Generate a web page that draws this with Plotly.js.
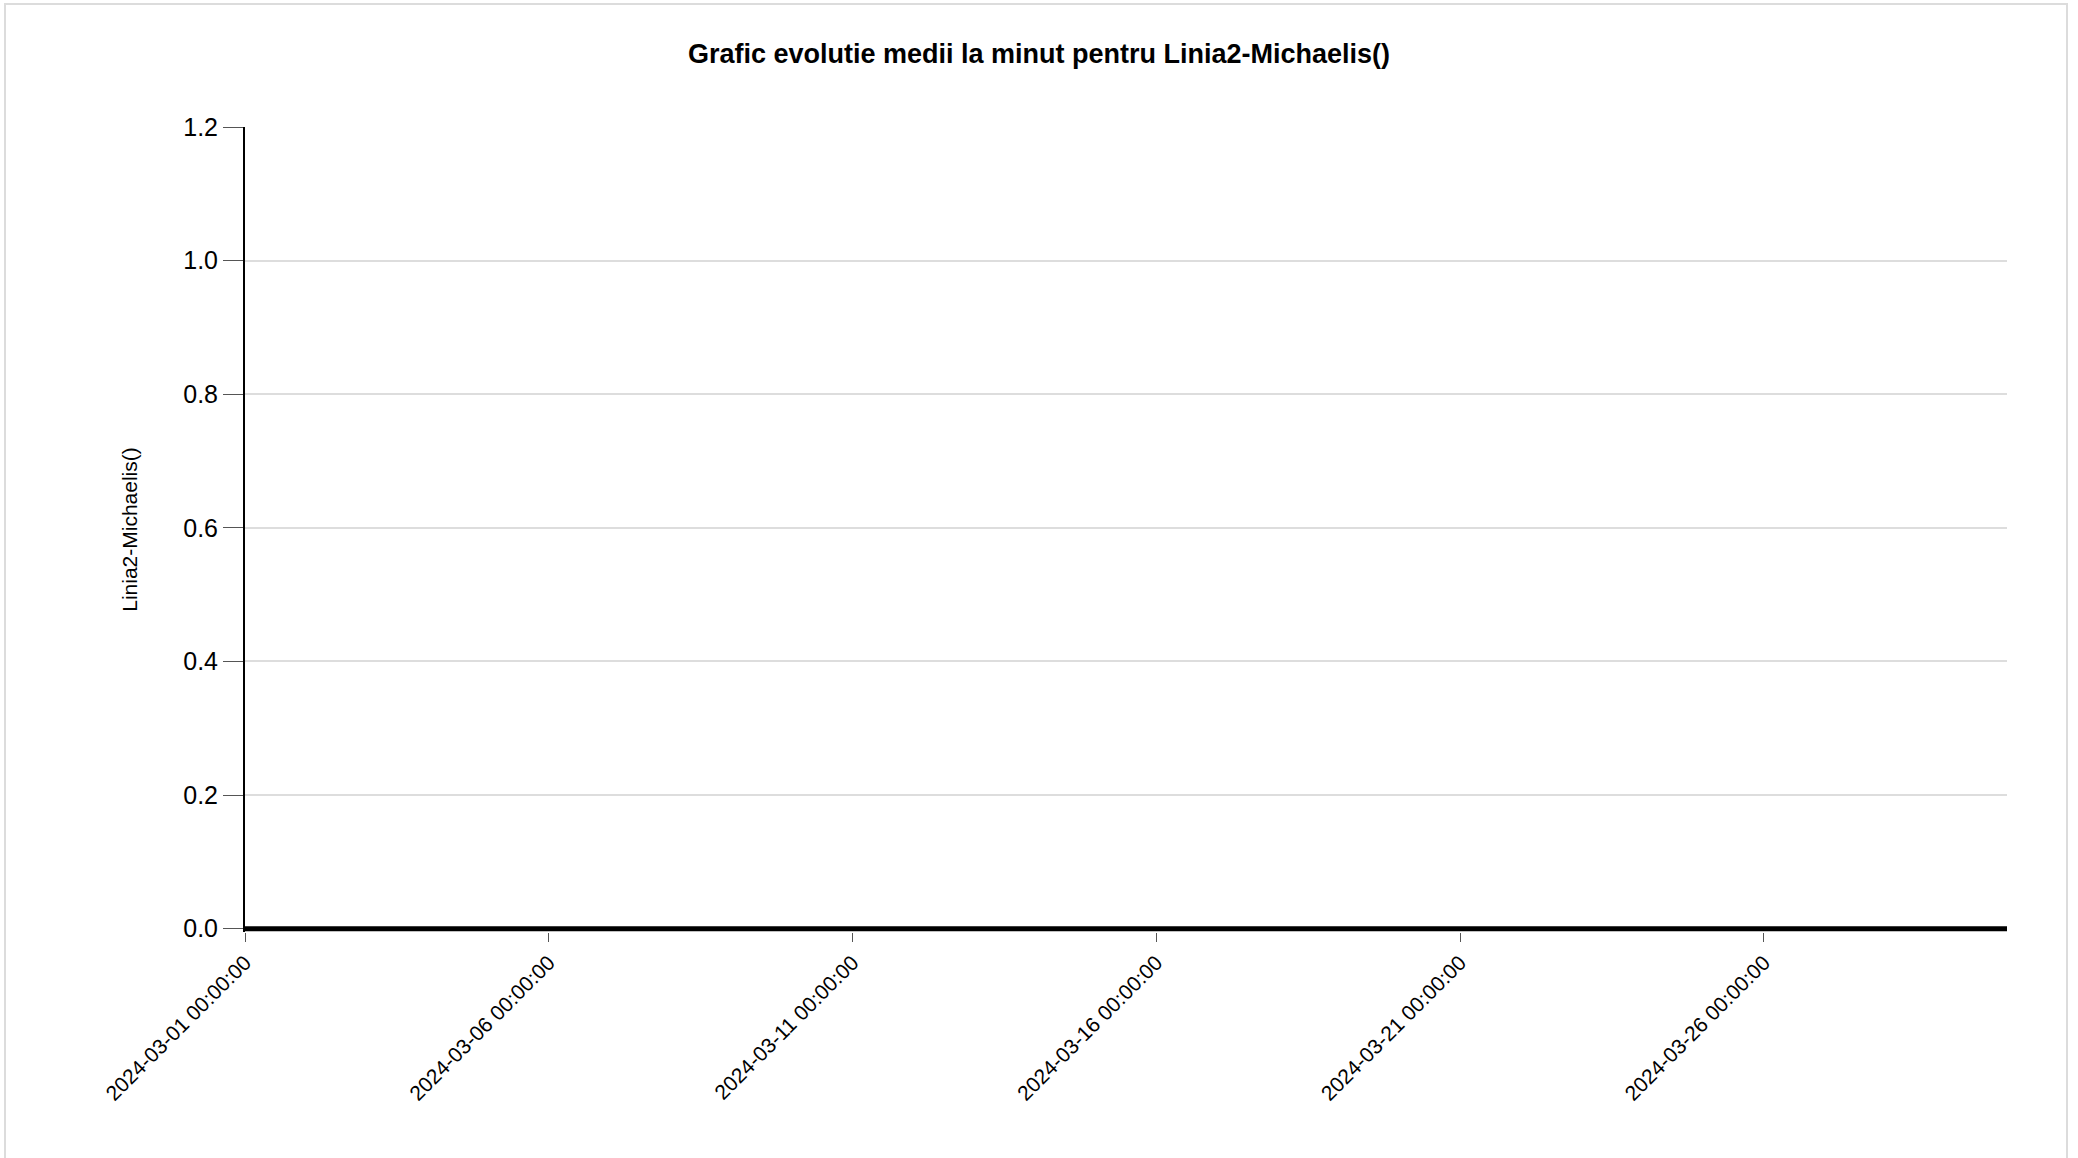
<!DOCTYPE html>
<html>
<head>
<meta charset="utf-8">
<script src="https://cdn.plot.ly/plotly-3.0.1.min.js"></script>
<style>
  html, body { margin: 0; padding: 0; background: #fff; }
  #wrap { position: relative; width: 2078px; height: 1158px; }
  #chart { width: 2078px; height: 1158px; }
  #frame { position: absolute; left: 4px; top: 3px; width: 2064px; height: 1170px;
           border: 2px solid #dcdcdc; box-sizing: border-box; pointer-events: none; }
</style>
</head>
<body>
<div id="wrap">
  <div id="chart"></div>
  <div id="frame"></div>
</div>
<script>
// Data (minute averages were all zero over the month)
const timestamps = [
  "2024-03-01 00:00:00", "2024-03-02 00:00:00", "2024-03-03 00:00:00", "2024-03-04 00:00:00",
  "2024-03-05 00:00:00", "2024-03-06 00:00:00", "2024-03-07 00:00:00", "2024-03-08 00:00:00",
  "2024-03-09 00:00:00", "2024-03-10 00:00:00", "2024-03-11 00:00:00", "2024-03-12 00:00:00",
  "2024-03-13 00:00:00", "2024-03-14 00:00:00", "2024-03-15 00:00:00", "2024-03-16 00:00:00",
  "2024-03-17 00:00:00", "2024-03-18 00:00:00", "2024-03-19 00:00:00", "2024-03-20 00:00:00",
  "2024-03-21 00:00:00", "2024-03-22 00:00:00", "2024-03-23 00:00:00", "2024-03-24 00:00:00",
  "2024-03-25 00:00:00", "2024-03-26 00:00:00", "2024-03-27 00:00:00", "2024-03-28 00:00:00",
  "2024-03-29 00:00:00", "2024-03-30 00:00:00"
];
const values = [
  0, 0, 0, 0, 0, 0, 0, 0, 0, 0,
  0, 0, 0, 0, 0, 0, 0, 0, 0, 0,
  0, 0, 0, 0, 0, 0, 0, 0, 0, 0
];
const xTickValues = [
  "2024-03-01 00:00:00", "2024-03-06 00:00:00", "2024-03-11 00:00:00",
  "2024-03-16 00:00:00", "2024-03-21 00:00:00", "2024-03-26 00:00:00"
];
const yTickValues = [0, 0.2, 0.4, 0.6, 0.8, 1.0, 1.2];
const seriesName = "Linia2-Michaelis()";
const chartTitle = "Grafic evolutie medii la minut pentru Linia2-Michaelis()";

const FONT = "Liberation Sans, Arial, sans-serif";

// small headroom below zero so the thick zero-valued line is not clipped
const yMin = -0.005, yMax = 1.2;
const W = 2078, H = 1158;
const plotTop = 127, zeroPx = 929;
const pxPerUnit = (zeroPx - plotTop) / yMax;
const plotBottom = zeroPx + (-yMin) * pxPerUnit;

const trace = {
  x: timestamps,
  y: values,
  type: "scatter",
  mode: "lines",
  name: seriesName,
  line: { color: "#000000", width: 5 },
  hoverinfo: "x+y"
};

const layout = {
  width: W,
  height: H,
  paper_bgcolor: "#ffffff",
  plot_bgcolor: "#ffffff",
  showlegend: false,
  margin: { l: 245, r: 71, t: plotTop, b: H - plotBottom, pad: 0 },
  font: { family: FONT, color: "#000000" },
  title: {
    text: "<b>" + chartTitle + "</b>",
    font: { family: FONT, size: 27, color: "#000000" },
    x: 0.5, xref: "container", xanchor: "center",
    y: 1 - 54 / H, yref: "container", yanchor: "middle"
  },
  xaxis: {
    type: "date",
    range: [timestamps[0], timestamps[timestamps.length - 1]],
    tickmode: "array",
    tickvals: xTickValues,
    ticktext: xTickValues,
    tickangle: -45,
    tickfont: { family: FONT, size: 21, color: "#000000" },
    ticks: "outside",
    ticklen: 9,
    tickwidth: 1,
    tickcolor: "#555555",
    showgrid: false,
    zeroline: false,
    showline: false,
    automargin: false
  },
  yaxis: {
    range: [yMin, yMax],
    tickmode: "array",
    tickvals: yTickValues,
    tickformat: ".1f",
    tickfont: { family: FONT, size: 25, color: "#000000" },
    ticks: "outside",
    ticklen: 20,
    tickwidth: 1,
    tickcolor: "#555555",
    showgrid: true,
    gridcolor: "#dddddd",
    gridwidth: 2,
    zeroline: false,
    showline: true,
    linecolor: "#000000",
    linewidth: 2,
    automargin: false,
    title: {
      text: seriesName,
      font: { family: FONT, size: 21, color: "#000000" },
      standoff: 40
    }
  }
};

Plotly.newPlot("chart", [trace], layout, { displayModeBar: false, responsive: false });
</script>
</body>
</html>
